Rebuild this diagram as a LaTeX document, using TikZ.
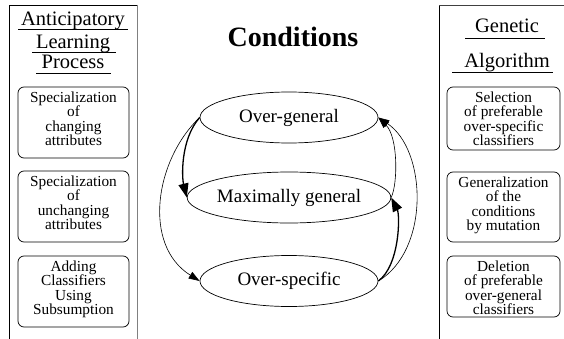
\documentclass[tikz,border=0pt]{standalone}
\usepackage{fontspec}
\setmainfont{Liberation Serif}
\usetikzlibrary{shapes.geometric,arrows.meta}
\tikzset{
  x=1pt,y=-1pt,
  panel/.style={line width=0.8pt},
  ul/.style={line width=0.7pt},
  head/.style={font=\fontsize{20.5}{22}\selectfont,inner sep=0pt,anchor=base},
  box/.style={draw,rounded corners=6pt,line width=0.7pt,inner sep=0pt},
  boxtext/.style={font=\fontsize{15.3}{14.5}\selectfont,align=center,inner sep=0pt,anchor=north},
  state/.style={draw,ellipse,line width=0.7pt,minimum width=178pt,minimum height=51pt,inner sep=0pt,font=\fontsize{19}{21}\selectfont},
  thinarr/.style={line width=0.6pt,-{Triangle[length=11pt,width=7.5pt]}},
  thickarr/.style={line width=1.3pt,-{Triangle[length=14pt,width=10pt]}}
}
\begin{document}
\begin{tikzpicture}
\useasboundingbox (0,0) rectangle (564,339);
% panels
\draw[panel] (9,339) -- (9,5) -- (137,5);
\draw[panel,gray] (137,5) -- (137,339);
\draw[panel] (439,339) -- (439,5);
\draw[panel,black!75] (439,5) -- (564,5);
% left heading
\node[head] (h1) at (73,26) {Anticipatory};
\node[head] (h2) at (73,49) {Learning};
\node[head] (h3) at (73,69) {Process};
\draw[ul] (18,29.5) -- (128,29.5);
\draw[ul] (32,52.5) -- (116,52.5);
\draw[ul] (36,73) -- (111,73);
% right heading
\node[head] (g1) at (507,33) {Genetic};
\node[head] (g2) at (507,68) {Algorithm};
\draw[ul] (465,38) -- (545,38);
\draw[ul] (452,72.5) -- (553,72.5);
% title
\node[font=\fontsize{28}{30}\selectfont\bfseries,inner sep=0pt,anchor=base] (title) at (293,47) {Conditions};
% left boxes
\node[box,minimum width=111pt,minimum height=71pt] (l1) at (73.5,122.5) {};
\node[boxtext] at ([yshift=-5pt]l1.north) {Specialization\\of\\changing\\attributes};
\node[box,minimum width=111pt,minimum height=71pt] (l2) at (73.5,206.5) {};
\node[boxtext] at ([yshift=-5pt]l2.north) {Specialization\\of\\unchanging\\attributes};
\node[box,minimum width=111pt,minimum height=71pt] (l3) at (73.5,291.5) {};
\node[boxtext] at ([yshift=-5pt]l3.north) {Adding\\Classifiers\\Using\\Subsumption};
% right boxes
\node[box,minimum width=113pt,minimum height=63pt] (r1) at (503.5,118.5) {};
\node[boxtext] at ([yshift=-5pt]r1.north) {Selection\\of preferable\\over-specific\\classifiers};
\node[box,minimum width=113pt,minimum height=70pt] (r2) at (503.5,207) {};
\node[boxtext] at ([yshift=-5pt]r2.north) {Generalization\\of the\\conditions\\by mutation};
\node[box,minimum width=113pt,minimum height=61pt] (r3) at (503.5,286.5) {};
\node[boxtext] at ([yshift=-5pt]r3.north) {Deletion\\of preferable\\over-general\\classifiers};
% states
\node[state] (og) at (289,117.5) {Over-general};
\node[state] (mg) at (289,197.5) {Maximally general};
\node[state] (os) at (289,281) {Over-specific};
% transitions
\draw[thickarr] (og.west) .. controls (180,140) and (182,178) .. (mg.west);
\draw[thinarr] (og.west) .. controls (155,160) and (142,245) .. (os.west);
\draw[thickarr] (os.east) .. controls (400,265) and (400,215) .. (mg.east);
\draw[thinarr] (mg.east) .. controls (398,183) and (398,137) .. (og.east);
\draw[thinarr] (os.east) .. controls (430,250) and (427,150) .. (og.east);
\end{tikzpicture}
\end{document}
